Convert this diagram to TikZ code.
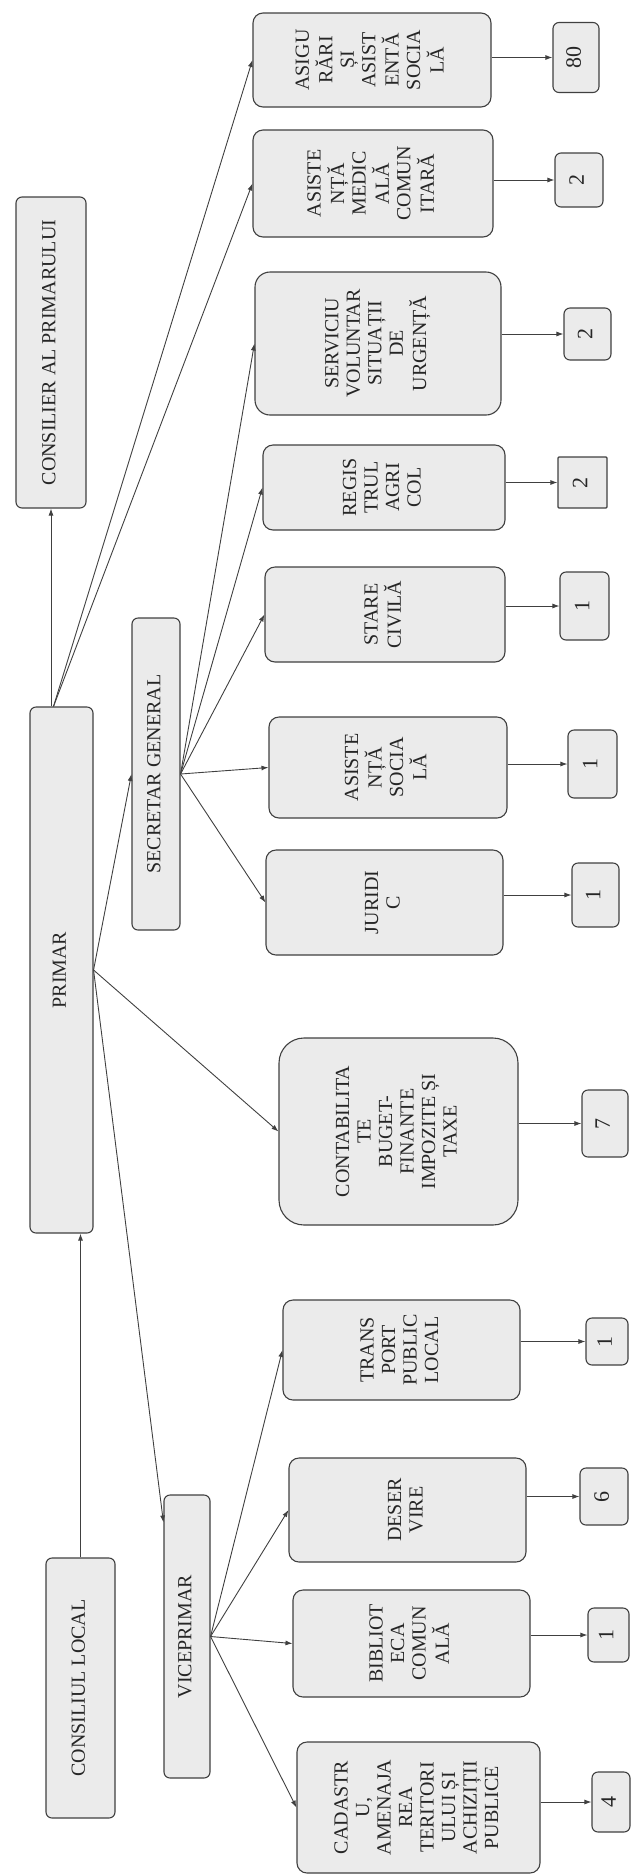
\documentclass[tikz,border=0pt]{standalone}
\usepackage{fontspec}
\setmainfont{Liberation Serif}
\usepackage{graphicx}
\usetikzlibrary{arrows.meta}
\newcommand{\rt}[1]{\rotatebox{90}{\begin{tabular}{@{}c@{}}#1\end{tabular}}}
\begin{document}
\begin{tikzpicture}[x=1pt,y=-1pt,
  box/.style={draw=black!75, fill=gray!16, line width=1.1pt, rounded corners=10pt,
    inner sep=0pt, text=black!85, font=\fontsize{20}{21.5}\selectfont},
  head/.style={box, rounded corners=6pt},
  cnt/.style={box, rounded corners=6pt, font=\fontsize{22}{24}\selectfont},
  conn/.style={draw=black!75, line width=0.9pt, -{Latex[length=7pt,width=5pt]}}]
\useasboundingbox (0,0) rectangle (634,1875);

% heads
\node[head, minimum width=70pt, minimum height=311pt] (consilier) at (51,352.5) {\rt{CONSILIER AL PRIMARULUI}};
\node[head, minimum width=63pt, minimum height=526pt] (primar) at (61.5,970) {\rt{PRIMAR}};
\node[head, minimum width=48pt, minimum height=312pt] (secretar) at (156,774) {\rt{SECRETAR GENERAL}};
\node[head, minimum width=46pt, minimum height=283pt] (vice) at (187,1636.5) {\rt{VICEPRIMAR}};
\node[head, minimum width=69pt, minimum height=260pt] (cl) at (80.5,1688) {\rt{CONSILIUL LOCAL}};

% departments
\node[box, minimum width=238pt, minimum height=94pt] (asig) at (372,60) {\rt{ASIGU\\RĂRI\\ȘI\\ASIST\\ENTĂ\\SOCIA\\LĂ}};
\node[box, minimum width=240pt, minimum height=107pt] (asmed) at (373,183.5) {\rt{ASISTE\\NȚĂ\\MEDIC\\ALĂ\\COMUN\\ITARĂ}};
\node[box, rounded corners=15pt, minimum width=246pt, minimum height=143pt] (serv) at (378,343.5) {\rt{SERVICIU\\VOLUNTAR\\SITUAȚII\\DE\\URGENȚĂ}};
\node[box, minimum width=242pt, minimum height=85pt] (reg) at (384,487.5) {\rt{REGIS\\TRUL\\AGRI\\COL}};
\node[box, minimum width=240pt, minimum height=95pt] (stare) at (385,614.5) {\rt{STARE\\CIVILĂ}};
\node[box, minimum width=238pt, minimum height=101pt] (assoc) at (388,767.5) {\rt{ASISTE\\NȚĂ\\SOCIA\\LĂ}};
\node[box, minimum width=237pt, minimum height=105pt] (jur) at (384.5,902.5) {\rt{JURIDI\\C}};
\node[box, rounded corners=25pt, minimum width=239pt, minimum height=187pt] (contab) at (398.5,1131.5) {\rt{CONTABILITA\\TE\\BUGET-\\FINANTE\\IMPOZITE ȘI\\TAXE}};
\node[box, minimum width=237pt, minimum height=100pt] (trans) at (401.5,1350) {\rt{TRANS\\PORT\\PUBLIC\\LOCAL}};
\node[box, minimum width=237pt, minimum height=104pt] (deserv) at (407.5,1510) {\rt{DESER\\VIRE}};
\node[box, minimum width=237pt, minimum height=107pt] (bib) at (411.5,1643.5) {\rt{BIBLIOT\\ECA\\COMUN\\ALĂ}};
\node[box, minimum width=243pt, minimum height=131pt] (cad) at (418.5,1807.5) {\rt{CADASTR\\U,\\AMENAJA\\REA\\TERITORI\\ULUI ȘI\\ACHIZIȚII\\PUBLICE}};

% counts
\node[cnt, minimum width=46pt, minimum height=70pt] (c1) at (576,57.5) {\rt{80}};
\node[cnt, minimum width=48pt, minimum height=54pt] (c2) at (579,180) {\rt{2}};
\node[cnt, minimum width=47pt, minimum height=52pt] (c3) at (587.5,334) {\rt{2}};
\node[cnt, rounded corners=1pt, minimum width=49pt, minimum height=51pt] (c4) at (582.5,482.5) {\rt{2}};
\node[cnt, minimum width=49pt, minimum height=68pt] (c5) at (584.5,606) {\rt{1}};
\node[cnt, minimum width=49pt, minimum height=68pt] (c6) at (592.5,764) {\rt{1}};
\node[cnt, minimum width=47pt, minimum height=64pt] (c7) at (595.5,895) {\rt{1}};
\node[cnt, minimum width=46pt, minimum height=67pt] (c8) at (605,1123.5) {\rt{7}};
\node[cnt, minimum width=42pt, minimum height=47pt] (c9) at (607,1341.5) {\rt{1}};
\node[cnt, minimum width=48pt, minimum height=57pt] (c10) at (604,1496.5) {\rt{6}};
\node[cnt, minimum width=41pt, minimum height=54pt] (c11) at (608.5,1635) {\rt{1}};
\node[cnt, minimum width=38pt, minimum height=60pt] (c12) at (611,1802) {\rt{4}};

% connectors between heads
\draw[conn] (consilier.south |- primar.north) -- (consilier.south);
\draw[conn] (cl.north) -- (cl.north |- primar.south);
\draw[conn] (primar.east) -- (secretar.west);
\draw[conn] (primar.east) -- ([yshift=-28pt]vice.north west);

% primar to departments
\draw[conn] ([xshift=-8pt]primar.north) -- (asig.west);
\draw[conn] ([xshift=-8pt]primar.north) -- (asmed.west);
\draw[conn] (primar.east) -- (contab.west);

% secretar to departments
\foreach \d in {serv,reg,stare,assoc,jur}
  \draw[conn] (secretar.east) -- (\d.west);

% viceprimar to departments
\foreach \d in {trans,deserv,bib,cad}
  \draw[conn] (vice.east) -- (\d.west);

% departments to counts
\foreach \d/\c in {asig/c1,asmed/c2,serv/c3,reg/c4,stare/c5,assoc/c6,jur/c7,contab/c8,trans/c9,deserv/c10,bib/c11,cad/c12}
  \draw[conn] (\c.west -| \d.east) -- (\c.west);
\end{tikzpicture}
\end{document}
